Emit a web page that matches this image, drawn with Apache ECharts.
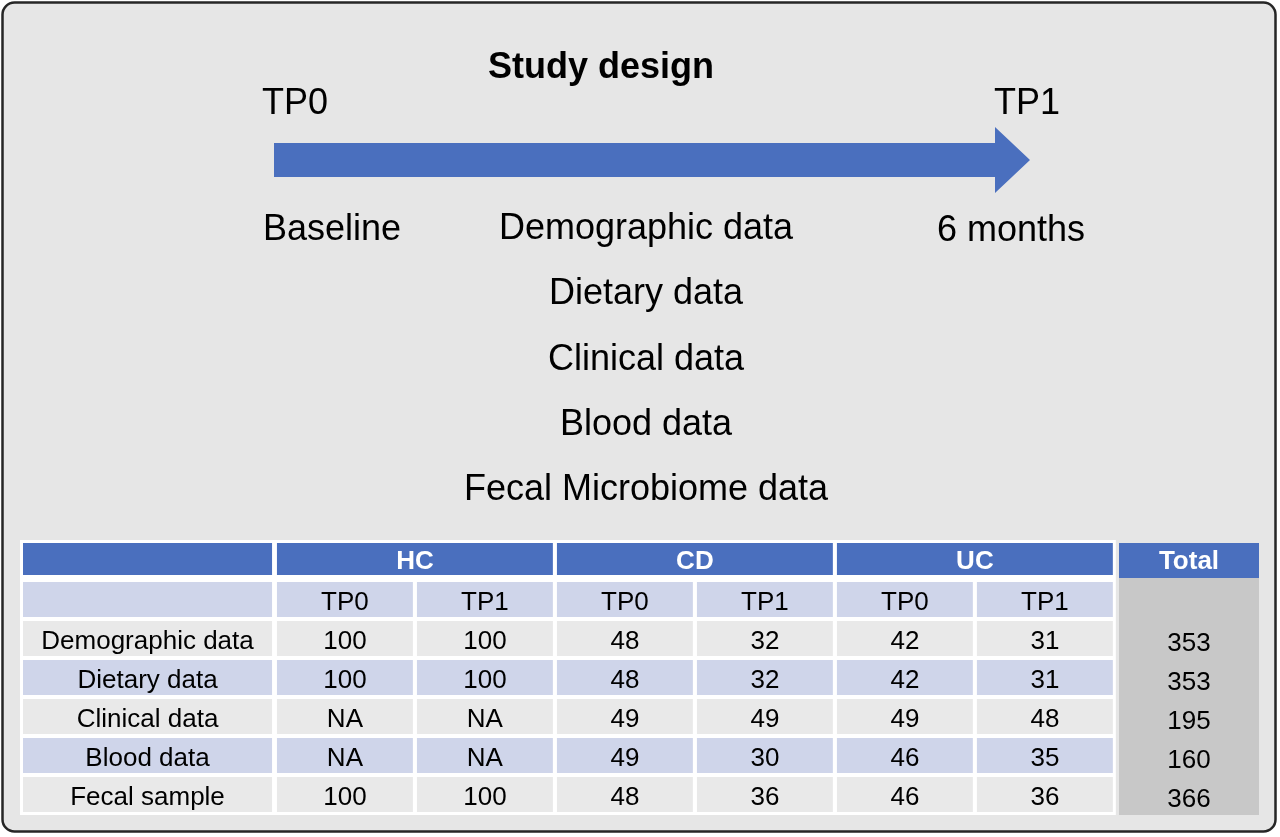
<!DOCTYPE html>
<html>
<head>
    <meta charset="utf-8">
    <title>Study design</title>
    <script type="text/javascript" src="https://cdn.jsdelivr.net/npm/echarts@6/dist/echarts.min.js"></script>
    <style>
        html, body { margin: 0; padding: 0; background: #fff; }
        #main { width: 1280px; height: 837px; }
    </style>
</head>
<body>
<div id="main"></div>

<script type="text/javascript">
    // time points on the arrow
    var timePoints = ['TP0', 'TP1'];
    var timeMonths = [0, 6];
    var timeNotes = ['Baseline', '6 months'];
    // data collected
    var dataTypes = ['Demographic data', 'Dietary data', 'Clinical data', 'Blood data', 'Fecal Microbiome data'];
    // sample table
    var groups = ['HC', 'CD', 'UC'];
    var rowNames = ['Demographic data', 'Dietary data', 'Clinical data', 'Blood data', 'Fecal sample'];
    var hcTP0 = [100, 100, 'NA', 'NA', 100];
    var hcTP1 = [100, 100, 'NA', 'NA', 100];
    var cdTP0 = [48, 48, 49, 49, 48];
    var cdTP1 = [32, 32, 49, 30, 36];
    var ucTP0 = [42, 42, 49, 46, 46];
    var ucTP1 = [31, 31, 48, 35, 36];
    var totals = [353, 353, 195, 160, 366];

    var FONT = "'Liberation Sans', Arial, Helvetica, sans-serif";
    var BLUE = '#4a6fbe';
    var LIGHT = '#cfd5ea';
    var GREY = '#e9e9e9';
    var DARK_GREY = '#c8c8c8';

    // x axis of the table: one unit per TP column, first column is wider
    var LABEL_SPAN = 1.814;
    var GAP = 0.029;
    var TOTAL_START = LABEL_SPAN + 6 + 0.015;
    function colStart(k) { return LABEL_SPAN + k; }

    var tableCols = [hcTP0, hcTP1, cdTP0, cdTP1, ucTP0, ucTP1];
    var cells = [];
    var cellInfo = [];
    function addCell(x0, x1, row, text, kind) {
        cells.push([x0, x1, row]);
        cellInfo.push({ text: text, kind: kind });
    }
    addCell(0, colStart(6) - GAP, 0, '', 'back');
    addCell(TOTAL_START, TOTAL_START + 1, 1, '', 'totCol');
    addCell(0, LABEL_SPAN - 0.035, 0, '', 'head');
    groups.forEach(function (g, i) {
        addCell(colStart(2 * i), colStart(2 * i + 2) - GAP, 0, g, 'head');
    });
    addCell(TOTAL_START, TOTAL_START + 1, 0, 'Total', 'totHead');
    addCell(0, LABEL_SPAN - 0.035, 1, '', 'sub');
    for (var k = 0; k < 6; k++) {
        addCell(colStart(k), colStart(k + 1) - GAP, 1, timePoints[k % 2], 'sub');
    }
    rowNames.forEach(function (name, r) {
        var kind = r % 2 ? 'sub' : 'plain';
        addCell(0, LABEL_SPAN - 0.035, r + 2, name, kind);
        tableCols.forEach(function (col, c) {
            addCell(colStart(c), colStart(c + 1) - GAP, r + 2, String(col[r]), kind);
        });
        addCell(TOTAL_START, TOTAL_START + 1, r + 2, String(totals[r]), 'tot');
    });

    function renderCell(params, api) {
        var info = cellInfo[params.dataIndex];
        var row = api.value(2);
        var a = api.coord([api.value(0), row]);
        var b = api.coord([api.value(1), row]);
        var band = api.size([0, 1])[1];
        var top = a[1] - band / 2;
        var h = band - 4;
        var fill = GREY, color = '#000', weight = 'normal', dy = 3;
        if (info.kind === 'back') {
            var last = api.coord([0, 6]);
            return {
                type: 'rect',
                shape: { x: a[0] - 3, y: top - 3, width: b[0] - a[0] + 6, height: last[1] + band / 2 - top + 2 },
                style: { fill: '#fff' }
            };
        }
        if (info.kind === 'totCol') {
            var end = api.coord([0, 6]);
            return {
                type: 'rect',
                shape: { x: a[0], y: top - 4, width: b[0] - a[0], height: end[1] + band / 2 - top + 3 },
                style: { fill: DARK_GREY }
            };
        }
        if (info.kind === 'head' || info.kind === 'totHead') {
            fill = BLUE; color = '#fff'; weight = 'bold';
            h = info.kind === 'head' ? band - 7 : band - 4;
            dy = info.kind === 'head' ? 3 : 1;
        } else if (info.kind === 'sub') {
            fill = LIGHT;
        } else if (info.kind === 'tot') {
            fill = null; dy = 5;
        }
        var children = [];
        if (fill) {
            children.push({
                type: 'rect',
                shape: { x: a[0], y: top, width: b[0] - a[0], height: h },
                style: { fill: fill }
            });
        }
        if (info.text) {
            children.push({
                type: 'text',
                style: {
                    text: info.text,
                    x: (a[0] + b[0]) / 2,
                    y: top + h / 2 + dy,
                    align: 'center',
                    verticalAlign: 'middle',
                    fill: color,
                    font: weight + ' 26px ' + FONT
                }
            });
        }
        return { type: 'group', children: children };
    }

    function renderArrow(params, api) {
        var p0 = api.coord([api.value(0), 0.5]);
        var p1 = api.coord([api.value(1), 0.5]);
        var half = api.size([0, 1])[1] / 2;
        var headLen = 35, headHalf = 33;
        var y = p0[1];
        return {
            type: 'polygon',
            shape: {
                points: [
                    [p0[0], y - half], [p1[0] - headLen, y - half], [p1[0] - headLen, y - headHalf],
                    [p1[0], y], [p1[0] - headLen, y + headHalf], [p1[0] - headLen, y + half], [p0[0], y + half]
                ]
            },
            style: { fill: BLUE }
        };
    }

    function renderTimePoint(params, api) {
        var p = api.coord([api.value(0), 0.5]);
        var i = params.dataIndex;
        var first = i === 0;
        return {
            type: 'group',
            children: [{
                type: 'text',
                style: {
                    text: timePoints[i],
                    x: first ? p[0] - 12 : p[0] + 30,
                    y: p[1] - 56,
                    align: first ? 'left' : 'right',
                    verticalAlign: 'middle',
                    fill: '#000',
                    font: '36px ' + FONT
                }
            }, {
                type: 'text',
                style: {
                    text: timeNotes[i],
                    x: first ? p[0] - 11 : p[0] + 55,
                    y: p[1] + (first ? 70 : 71),
                    align: first ? 'left' : 'right',
                    verticalAlign: 'middle',
                    fill: '#000',
                    font: '36px ' + FONT
                }
            }]
        };
    }

    var chart = echarts.init(document.getElementById('main'));
    var option = {
        backgroundColor: '#fff',
        animation: false,
        graphic: [{
            type: 'rect',
            z: 0,
            shape: { x: 2.5, y: 2.5, width: 1273, height: 829, r: 12 },
            style: { fill: '#e6e6e6', stroke: '#262626', lineWidth: 2.5 }
        }, {
            type: 'text',
            z: 5,
            style: {
                text: 'Study design', x: 601, y: 68, align: 'center', verticalAlign: 'middle',
                fill: '#000', font: 'bold 36px ' + FONT
            }
        }].concat(dataTypes.map(function (t, i) {
            return {
                type: 'text',
                z: 5,
                style: {
                    text: t, x: 646, y: 229 + i * 65.3, align: 'center', verticalAlign: 'middle',
                    fill: '#000', font: '36px ' + FONT
                }
            };
        })),
        grid: [
            { left: 23, width: 1236, top: 543, height: 273 },
            { left: 274, width: 756, top: 143, height: 34 }
        ],
        xAxis: [
            { type: 'value', gridIndex: 0, min: 0, max: 8.829, show: false },
            { type: 'value', gridIndex: 1, min: 0, max: 6, show: false }
        ],
        yAxis: [
            { type: 'category', gridIndex: 0, inverse: true, data: ['group', 'tp', 'r1', 'r2', 'r3', 'r4', 'r5'], show: false },
            { type: 'value', gridIndex: 1, min: 0, max: 1, show: false }
        ],
        series: [{
            type: 'custom',
            xAxisIndex: 0,
            yAxisIndex: 0,
            renderItem: renderCell,
            data: cells
        }, {
            type: 'custom',
            xAxisIndex: 1,
            yAxisIndex: 1,
            renderItem: renderArrow,
            data: [[timeMonths[0], timeMonths[1]]]
        }, {
            type: 'custom',
            xAxisIndex: 1,
            yAxisIndex: 1,
            renderItem: renderTimePoint,
            data: timeMonths.map(function (m) { return [m]; })
        }]
    };
    chart.setOption(option);
</script>
</body>
</html>
